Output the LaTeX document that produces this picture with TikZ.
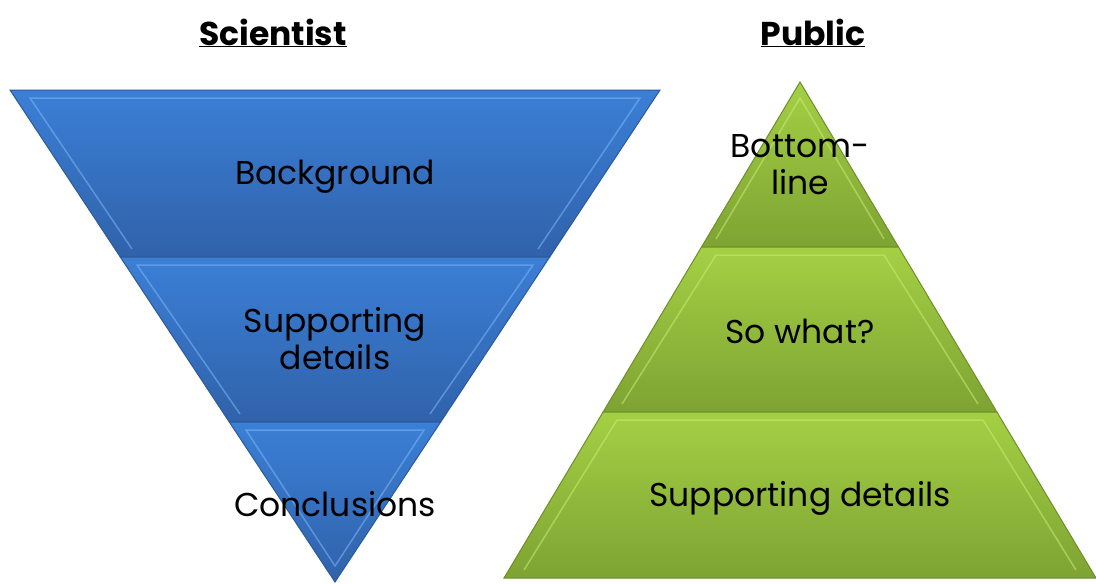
\documentclass[tikz,border=0pt]{standalone}
\usepackage{fontspec}
\setmainfont{Poppins}

\begin{document}
\begin{tikzpicture}[x=1pt, y=-1pt,
  bluefill/.style={top color=blueTop, bottom color=blueBot, draw=blueEdge, line width=1pt},
  greenfill/.style={top color=greenTop, bottom color=greenBot, draw=greenEdge, line width=1pt},
  bluebevel/.style={draw=blueLite, line width=1.5pt, opacity=0.55},
  greenbevel/.style={draw=greenLite, line width=1.5pt, opacity=0.55},
  label/.style={align=center, font=\fontsize{33}{37}\selectfont, inner sep=0pt},
  title/.style={font=\fontsize{33}{38}\selectfont\bfseries, inner sep=0pt, anchor=base}]

\definecolor{blueTop}{HTML}{3B7FD6}
\definecolor{blueBot}{HTML}{3062AA}
\definecolor{blueEdge}{HTML}{2B5A9A}
\definecolor{blueLite}{HTML}{7DB8F5}
\definecolor{greenTop}{HTML}{A4D044}
\definecolor{greenBot}{HTML}{7EA333}
\definecolor{greenEdge}{HTML}{6E8F2B}
\definecolor{greenLite}{HTML}{C8EC78}

\useasboundingbox (0,0) rectangle (1096,584);

% Scientist: inverted triangle
\path[bluefill] (10,90) -- (660,90) -- (549.7,257) -- (120.3,257) -- cycle;
\path[bluefill] (120.3,257) -- (549.7,257) -- (440.7,422) -- (229.3,422) -- cycle;
\path[bluefill] (229.3,422) -- (440.7,422) -- (335,582) -- cycle;
\draw[bluebevel] (132,249) -- (30,98) -- (640,98) -- (538,249);
\draw[bluebevel] (240,414) -- (137,265) -- (533,265) -- (430,414);
\draw[bluebevel] (335,566) -- (246,430) -- (424,430) -- cycle;

% Public: pyramid
\path[greenfill] (800,82) -- (898.5,247) -- (701.5,247) -- cycle;
\path[greenfill] (701.5,247) -- (898.5,247) -- (996.9,412) -- (603.1,412) -- cycle;
\path[greenfill] (603.1,412) -- (996.9,412) -- (1096,578) -- (504,578) -- cycle;
\draw[greenbevel] (716,239) -- (800,98) -- (884,239);
\draw[greenbevel] (622,404) -- (716,255) -- (884,255) -- (978,404);
\draw[greenbevel] (524,570) -- (617,420) -- (983,420) -- (1076,570);

% titles
\node[title] (sci) at (273,45) {\underline{Scientist}};
\node[title] (pub) at (813,45) {\underline{Public}};

% band labels
\node[label] (bg) at (335,177) {Background};
\node[label] (supL) at (335,339) {Supporting\\details};
\node[label] (concl) at (335,504) {Conclusions};
\node[label] (bottom) at (800,165) {Bottom-\\line};
\node[label] (sowhat) at (800,331) {So what?};
\node[label] (supR) at (800,498) {Supporting details};

\end{tikzpicture}
\end{document}
